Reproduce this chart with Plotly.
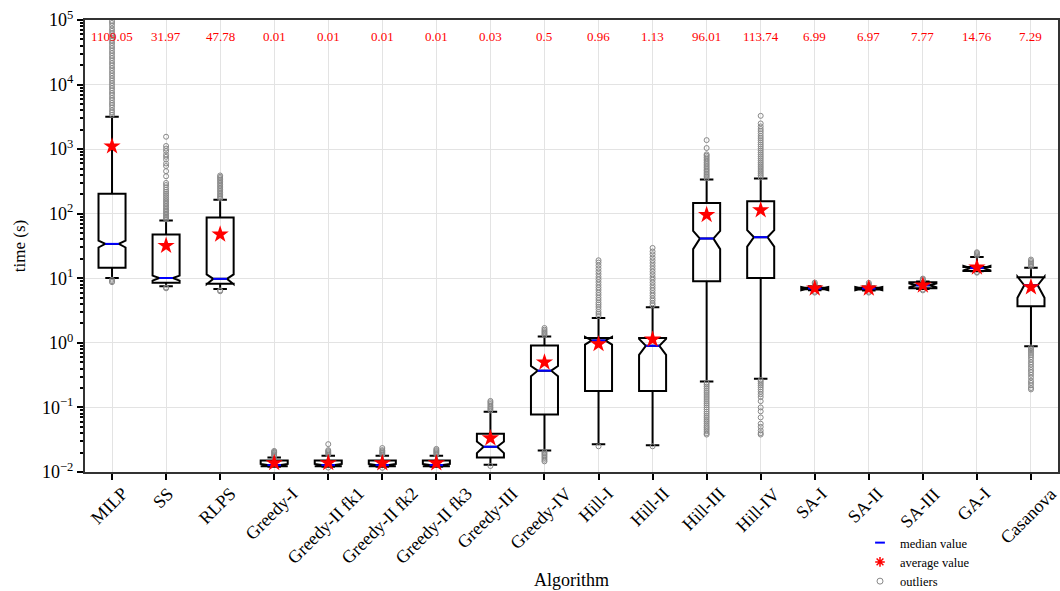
import plotly.graph_objects as go

categories = ["MILP", "SS", "RLPS", "Greedy-I", "Greedy-II fk1", "Greedy-II fk2",
              "Greedy-II fk3", "Greedy-III", "Greedy-IV", "Hill-I", "Hill-II",
              "Hill-III", "Hill-IV", "SA-I", "SA-II", "SA-III", "GA-I", "Casanova"]

q1 = [14.5, 8.5, 8.2, 0.0123, 0.0123, 0.0123, 0.0123, 0.0168, 0.078, 0.18, 0.18,
      9.0, 10.1, 6.75, 6.72, 7.0, 13.0, 3.7]
median = [34.1, 10.1, 9.8, 0.0128, 0.0128, 0.0128, 0.0128, 0.0246, 0.371, 1.09, 0.90,
          41.3, 43.3, 6.95, 6.93, 7.78, 14.4, 7.8]
q3 = [203, 47.6, 87, 0.0151, 0.0151, 0.0151, 0.0151, 0.039, 0.914, 1.19, 1.19,
      146, 156, 7.15, 7.12, 8.67, 15.0, 10.4]
lower_whisker = [10.1, 7.5, 6.85, 0.0121, 0.0121, 0.0121, 0.0121, 0.0129, 0.0215, 0.027,
                 0.026, 0.253, 0.279, 6.5, 6.45, 6.8, 12.9, 0.89]
upper_whisker = [3180, 78.5, 164, 0.0168, 0.0178, 0.0178, 0.0178, 0.0857, 1.26, 2.43,
                 3.55, 339, 352, 7.5, 7.45, 8.9, 21.4, 14.5]
notch_span = [4.1, 0.9, 1.7, 0.0005, 0.0005, 0.0005, 0.0005, 0.005, 0.066, 0.15, 0.25,
              13.0, 12.4, 0.4, 0.4, 0.5, 1.2, 2.8]
means = [1109.05, 31.97, 47.78, 0.0138, 0.0138, 0.0137, 0.0137, 0.0334, 0.5, 0.96, 1.13,
         96.01, 113.74, 6.99, 6.97, 7.77, 14.76, 7.29]

outliers = {
    "MILP": [8.7, 9.0, 9.5, 3400, 3700, 4000, 4400, 4800, 5200, 5700, 6200, 6800, 7400,
             8100, 8800, 9600, 10500, 11500, 12500, 13700, 15000, 16400, 18000, 19700,
             21500, 23500, 25700, 28000, 30700, 33500, 36700, 40000, 44000, 48000,
             52000, 57000, 62000, 68000, 74000, 82000, 90000, 97000],
    "SS": [7.0, 7.2, 82, 86, 90, 95, 100, 106, 112, 118, 125, 132, 140, 148, 157, 167,
           178, 190, 203, 218, 235, 255, 278, 300, 380, 456, 548, 600, 690, 760, 827,
           935, 1020, 1120, 1556],
    "RLPS": [6.3, 6.5, 172, 180, 190, 200, 212, 225, 238, 252, 267, 283, 300, 318, 336,
             355, 372, 391],
    "Greedy-I": [0.0175, 0.0183, 0.019, 0.0198, 0.0205, 0.0212],
    "Greedy-II fk1": [0.0117, 0.0186, 0.0194, 0.0202, 0.021, 0.0218, 0.027],
    "Greedy-II fk2": [0.0116, 0.0186, 0.0194, 0.0202, 0.021, 0.0218, 0.0235],
    "Greedy-II fk3": [0.0186, 0.0194, 0.0202, 0.021, 0.0218, 0.0228],
    "Greedy-III": [0.0124, 0.09, 0.095, 0.1, 0.106, 0.113, 0.12, 0.126],
    "Greedy-IV": [0.0146, 0.0155, 0.0165, 0.0175, 0.0185, 0.0195, 0.0205, 1.32, 1.38,
                  1.45, 1.52, 1.6, 1.7],
    "Hill-I": [0.025, 2.6, 2.8, 3.0, 3.3, 3.6, 3.9, 4.2, 4.6, 5.0, 5.5, 6.0, 6.6, 7.2,
               7.9, 8.7, 9.6, 10.5, 11.6, 12.8, 14.2, 15.8, 17.5, 19.0],
    "Hill-II": [0.025, 3.8, 4.1, 4.5, 4.9, 5.4, 5.9, 6.5, 7.1, 7.8, 8.6, 9.5, 10.4, 11.5,
                12.7, 14.0, 15.5, 17.2, 19.0, 21.0, 23.5, 26.0, 29.5],
    "Hill-III": [0.038, 0.04, 0.043, 0.046, 0.049, 0.052, 0.056, 0.06, 0.064, 0.069,
                 0.074, 0.08, 0.086, 0.093, 0.1, 0.108, 0.116, 0.125, 0.135, 0.145,
                 0.156, 0.168, 0.18, 0.195, 0.21, 0.225, 0.24, 355, 375, 395, 415, 440,
                 465, 490, 520, 550, 585, 620, 660, 700, 745, 790, 830, 1040, 1380],
    "Hill-IV": [0.038, 0.04, 0.044, 0.05, 0.056, 0.07, 0.087, 0.1, 0.125, 0.145, 0.16,
                0.175, 0.19, 0.205, 0.22, 0.235, 0.25, 0.265, 365, 390, 415, 445, 475,
                510, 545, 585, 625, 670, 720, 770, 825, 885, 950, 1020, 1100, 1180,
                1270, 1370, 1480, 1600, 1750, 1900, 2050, 2250, 2500, 3280],
    "SA-I": [6.0, 6.2, 7.8, 8.2, 8.6],
    "SA-II": [6.0, 6.2, 7.8, 8.1, 8.5],
    "SA-III": [6.5, 6.7, 9.2, 9.6, 9.9],
    "GA-I": [12.2, 12.5, 22.5, 23.5, 24.5, 25.3],
    "Casanova": [0.19, 0.2, 0.22, 0.24, 0.26, 0.29, 0.32, 0.35, 0.38, 0.42, 0.46, 0.5,
                 0.55, 0.6, 0.65, 0.7, 0.75, 0.8, 0.85, 15.2, 16.0, 16.8, 17.6, 18.5,
                 19.5],
}

y_tick_exponents = [-2, -1, 0, 1, 2, 3, 4, 5]

FONT = "Liberation Serif, Times New Roman, serif"
positions = list(range(len(categories)))

fig = go.Figure()

# outliers
ox, oy = [], []
for i, c in enumerate(categories):
    for v in outliers[c]:
        ox.append(i)
        oy.append(v)
fig.add_trace(go.Scatter(x=ox, y=oy, mode="markers", showlegend=False, hoverinfo="skip",
                         marker=dict(symbol="circle-open", size=5, color="#888888",
                                     line=dict(width=1, color="#888888"))))

fig.add_trace(go.Box(x=positions, q1=q1, median=median, q3=q3,
                     lowerfence=lower_whisker, upperfence=upper_whisker,
                     notchspan=notch_span, notched=True, notchwidth=0.25,
                     width=0.5, whiskerwidth=0.5, orientation="v",
                     boxpoints=False, fillcolor="rgba(0,0,0,0)",
                     line=dict(color="black", width=2), showlegend=False))

# median lines (blue)
mx, my = [], []
for i, m in enumerate(median):
    mx += [i - 0.125, i + 0.125, None]
    my += [m, m, None]
fig.add_trace(go.Scatter(x=mx, y=my, mode="lines", line=dict(color="blue", width=2),
                         showlegend=False, hoverinfo="skip"))

# mean stars
fig.add_trace(go.Scatter(x=positions, y=means, mode="markers", showlegend=False,
                         marker=dict(symbol="star", size=13, color="red",
                                     line=dict(width=0))))

# legend entries
fig.add_trace(go.Scatter(x=[None], y=[None], mode="markers", name="median value",
                         marker=dict(symbol="line-ew-open", size=7, color="blue",
                                     line=dict(width=2, color="blue"))))
fig.add_trace(go.Scatter(x=[None], y=[None], mode="markers", name="average value",
                         marker=dict(symbol="asterisk-open", size=8, color="red",
                                     line=dict(width=1.5, color="red"))))
fig.add_trace(go.Scatter(x=[None], y=[None], mode="markers", name="outliers",
                         marker=dict(symbol="circle-open", size=6, color="#888888",
                                     line=dict(width=1, color="#888888"))))

annotations = []
for i, m in enumerate(means):
    annotations.append(dict(x=i, y=(472 - 36.7) / 452, xref="x", yref="paper",
                            xanchor="center", yanchor="middle",
                            text=str(round(m, 2)), showarrow=False,
                            font=dict(family=FONT, size=13, color="red")))
for i, c in enumerate(categories):
    annotations.append(dict(x=i, y=0, xref="x", yref="paper", text=c, textangle=-45,
                            xanchor="center", yanchor="top", xshift=-3, yshift=-9,
                            showarrow=False,
                            font=dict(family=FONT, size=18, color="black")))
annotations.append(dict(x=0.5, y=(472 - 580) / 452, xref="paper", yref="paper",
                        xanchor="center", yanchor="middle",
                        text="Algorithm", showarrow=False,
                        font=dict(family=FONT, size=18, color="black")))

fig.update_layout(
    width=1060, height=591,
    margin=dict(l=85, r=2, t=20, b=119, autoexpand=False),
    paper_bgcolor="white", plot_bgcolor="white",
    font=dict(family=FONT, size=18, color="black"),
    annotations=annotations,
    legend=dict(x=(860 - 85) / 973, y=(472 - 528) / 452, xanchor="left", yanchor="top",
                font=dict(family=FONT, size=12.5, color="black"),
                bgcolor="rgba(0,0,0,0)", itemwidth=30, tracegroupgap=0),
)
fig.update_xaxes(range=[-0.5, 17.5], tickvals=positions, showticklabels=False,
                 ticks="outside", ticklen=6, tickwidth=1.5, tickcolor="black",
                 showgrid=True, gridcolor="#e3e3e3", gridwidth=1,
                 showline=True, linecolor="#333333", linewidth=2, mirror=True,
                 zeroline=False, automargin=False)
fig.update_yaxes(type="log", range=[-2, 5],
                 tickvals=[10.0 ** e for e in y_tick_exponents],
                 ticktext=["10<sup>%s</sup>" % (str(e).replace("-", "\u2212"))
                           for e in y_tick_exponents],
                 ticks="outside", ticklen=6, tickwidth=1.5, tickcolor="black",
                 tickfont=dict(family=FONT, size=18, color="black"),
                 minor=dict(ticks="outside", ticklen=3.5, tickcolor="black",
                            tickvals=[k * 10.0 ** e for e in y_tick_exponents[:-1]
                                      for k in range(2, 10)],
                            showgrid=False),
                 showgrid=True, gridcolor="#e3e3e3", gridwidth=1,
                 showline=True, linecolor="#333333", linewidth=2, mirror=True,
                 zeroline=False, automargin=False,
                 title=dict(text="time (s)", font=dict(family=FONT, size=17), standoff=12))

fig.write_html("out.html", config={"displayModeBar": False},
               post_script="document.body.style.margin='0';"
                           "document.body.style.overflow='hidden';")
